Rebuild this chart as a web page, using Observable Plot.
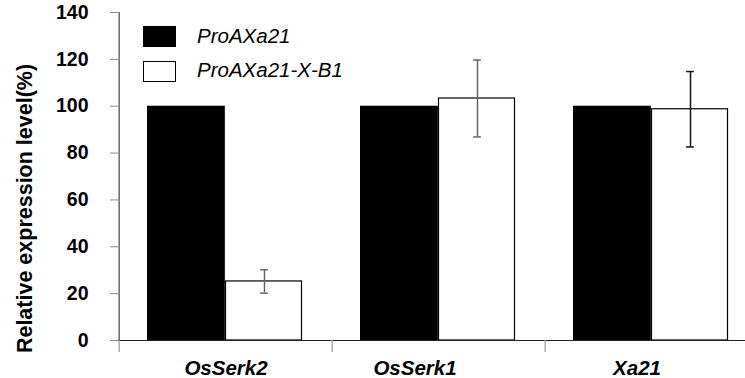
<!DOCTYPE html>
<html>
<head>
<meta charset="utf-8">
<script src="https://cdn.jsdelivr.net/npm/d3@7"></script>
<script src="https://cdn.jsdelivr.net/npm/@observablehq/plot@0.6"></script>
<style>
  html, body { margin: 0; padding: 0; background: #fff; }
  #wrap { position: relative; width: 745px; height: 378px; overflow: hidden; font-family: "Liberation Sans", Arial, sans-serif; }
  .lg { position: absolute; left: 143px; display: flex; align-items: center; }
  .sw { width: 33px; height: 21px; box-sizing: border-box; }
  .lt { position: absolute; left: 54px; white-space: nowrap; font-style: italic; font-size: 20.5px; color: #000; }
</style>
</head>
<body>
<div id="wrap"></div>
<script>
// ---- data ----
const genes = ["OsSerk2", "OsSerk1", "Xa21"];
const series = ["ProAXa21", "ProAXa21-X-B1"];
const controlValues = [100, 100, 100];
const treatedValues = [25.2, 103.3, 98.7];
const treatedErrors = [5.0, 16.4, 16.1];
const yTicks = [0, 20, 40, 60, 80, 100, 120, 140];
const yLabel = "Relative expression level(%)";

// ---- build table ----
const controlRows = genes.map((g, i) => ({gene: g, series: series[0], value: controlValues[i]}));
const treatedRows = genes.map((g, i) => ({gene: g, series: series[1], value: treatedValues[i], err: treatedErrors[i]}));

// ---- layout / style ----
const W = 745, H = 378, mL = 118, mR = -14, mT = 12, mB = 38;
const bw = (W - mL - mR) / genes.length;
const errDx = 38.5, capHalf = 4.2;
const labelShift = {OsSerk2: 0, OsSerk1: -24, Xa21: -15};
const errColor = {OsSerk2: "#666", OsSerk1: "#666", Xa21: "#111"};
const font = "'Liberation Sans', Arial, sans-serif";

const chart = Plot.plot({
  width: W, height: H,
  marginLeft: mL, marginRight: mR, marginTop: mT, marginBottom: mB,
  x: {domain: genes, padding: 0, axis: null},
  y: {domain: [0, 140], axis: null},
  style: {fontFamily: font, background: "transparent", color: "#000"},
  marks: [
    Plot.barY(controlRows, {x: "gene", y: "value", fill: "#000", insetLeft: 28, insetRight: bw - 106.5}),
    Plot.barY(treatedRows, {x: "gene", y: "value", fill: "#fff", stroke: "#000", strokeWidth: 1.2, insetLeft: 106.5, insetRight: 30.5}),
    ...genes.map(g => [
      Plot.ruleX(treatedRows.filter(d => d.gene === g), {x: "gene", y1: d => d.value - d.err, y2: d => d.value + d.err, dx: errDx, stroke: errColor[g], strokeWidth: 1.5}),
      Plot.tickY(treatedRows.filter(d => d.gene === g), {x: "gene", y: d => d.value + d.err, insetLeft: bw / 2 + errDx - capHalf, insetRight: bw / 2 - errDx - capHalf, stroke: errColor[g], strokeWidth: 1.5}),
      Plot.tickY(treatedRows.filter(d => d.gene === g), {x: "gene", y: d => d.value - d.err, insetLeft: bw / 2 + errDx - capHalf, insetRight: bw / 2 - errDx - capHalf, stroke: errColor[g], strokeWidth: 1.5})
    ]).flat(),
    Plot.ruleY([0], {stroke: "#222", strokeWidth: 1.2}),
    Plot.ruleX([genes[0]], {x: d => d, dx: -bw / 2, stroke: "#444", strokeWidth: 1.2}),
    Plot.ruleX(genes, {x: d => d, y1: () => 0, y2: () => 0, insetBottom: -12, dx: -bw / 2, stroke: "#999", strokeWidth: 1.2}),
    Plot.axisY({ticks: yTicks, tickSize: 8, tickPadding: 22, label: null, fontSize: 19.5, fontWeight: "bold", stroke: "#888", fill: "#000"}),
    ...genes.map(g => Plot.text([g], {x: d => d, frameAnchor: "bottom", dy: 28, dx: labelShift[g], text: d => d, fontSize: 20.5, fontWeight: "bold", fontStyle: "italic", fill: "#000", lineAnchor: "middle"})),
    Plot.text([yLabel], {frameAnchor: "left", rotate: -90, dx: -93, dy: 32, text: d => d, fontSize: 21.5, fontWeight: "bold", fill: "#000", textAnchor: "middle", lineAnchor: "middle"})
  ]
});

const wrap = document.getElementById("wrap");
wrap.appendChild(chart);

// legend (HTML, overlaid on plot area)
const legendTops = [26, 61];
const legendFills = [["#000", "none"], ["#fff", "1px solid #000"]];
series.forEach((s, i) => {
  const row = document.createElement("div");
  row.className = "lg";
  row.style.top = legendTops[i] + "px";
  const sw = document.createElement("div");
  sw.className = "sw";
  sw.style.background = legendFills[i][0];
  sw.style.border = legendFills[i][1];
  const t = document.createElement("div");
  t.className = "lt";
  t.textContent = s;
  t.style.top = (i === 0 ? -2 : -3) + "px";
  row.appendChild(sw);
  row.appendChild(t);
  wrap.appendChild(row);
});
</script>
</body>
</html>
